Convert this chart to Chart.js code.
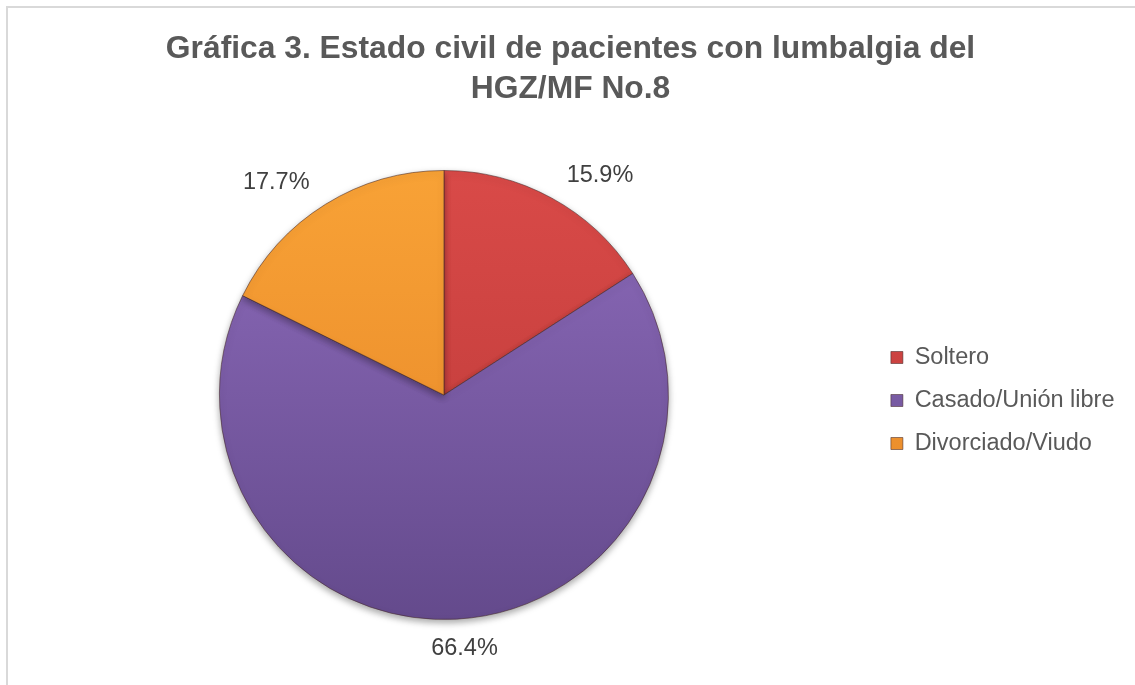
<!DOCTYPE html>
<html>
<head>
<meta charset="utf-8">
<script src="https://cdn.jsdelivr.net/npm/chart.js@4.4.1/dist/chart.umd.min.js"></script>
<style>
  html, body { margin: 0; padding: 0; background: #fff; overflow: hidden; }
  #box {
    position: absolute; left: 6px; top: 6px;
    width: 1128px; height: 680px;
    border: 2px solid #d9d9d9; background: #fff;
  }
</style>
</head>
<body>
<div id="box"><canvas id="pieChart" width="1128" height="680"></canvas></div>
<script>
// --- Data ---
const categories = ["Soltero", "Casado/Unión libre", "Divorciado/Viudo"];
const percents = [15.9, 66.4, 17.7];
const titleLines = ["Gráfica 3. Estado civil de pacientes con lumbalgia del", "HGZ/MF No.8"];

// top / bottom shade for each slice (bevel-ish look)
const sliceTop = ["#d94a48", "#8d6bbb", "#f8a236"];
const sliceBottom = ["#b93836", "#644a8c", "#e58427"];

function sliceFill(context) {
  const chart = context.chart;
  const area = chart.chartArea;
  if (!area) return sliceTop[context.dataIndex];
  const g = chart.ctx.createLinearGradient(0, area.top, 0, area.bottom);
  g.addColorStop(0, sliceTop[context.dataIndex]);
  g.addColorStop(1, sliceBottom[context.dataIndex]);
  return g;
}

// soft drop shadow under the pie
const pieShadow = {
  id: "pieShadow",
  beforeDatasetsDraw(chart) {
    const c = chart.ctx;
    c.save();
    c.shadowColor = "rgba(0,0,0,0.35)";
    c.shadowBlur = 7;
    c.shadowOffsetY = 3;
  },
  afterDatasetsDraw(chart) {
    chart.ctx.restore();
  }
};

// percentage labels outside each slice
const outsideLabels = {
  id: "outsideLabels",
  afterDraw(chart) {
    const c = chart.ctx;
    const meta = chart.getDatasetMeta(0);
    c.save();
    c.font = "23.5px 'Liberation Sans', Arial, sans-serif";
    c.fillStyle = "#404040";
    c.textAlign = "center";
    c.textBaseline = "middle";
    meta.data.forEach((arc, i) => {
      const p = arc.getProps(["x", "y", "startAngle", "endAngle", "outerRadius"], true);
      const mid = (p.startAngle + p.endAngle) / 2;
      const d = p.outerRadius + 15;
      const txt = percents[i].toFixed(1) + "%";
      const w = c.measureText(txt).width;
      const h = 24;
      const cx = Math.cos(mid), sy = Math.sin(mid);
      const clamp = v => Math.max(-1, Math.min(1, v));
      const x = p.x + cx * d + (w / 2 + 8) * clamp(cx * 3);
      const y = p.y + sy * d + (h / 2) * clamp(sy * 3) + 2.5;
      c.fillText(txt, x, y);
    });
    c.restore();
  }
};

new Chart(document.getElementById("pieChart"), {
  type: "pie",
  data: {
    labels: categories,
    datasets: [{
      data: percents,
      backgroundColor: sliceFill,
      borderColor: "rgba(70,40,40,0.55)",
      borderWidth: 1
    }]
  },
  options: {
    responsive: false,
    animation: false,
    layout: { padding: { left: 8.5, right: 11.5, top: 0, bottom: 68 } },
    plugins: {
      title: {
        display: true,
        text: titleLines,
        color: "#595959",
        font: { family: "'Liberation Sans', Arial, sans-serif", size: 31.8, weight: "bold", lineHeight: 40 / 31.8 },
        padding: { top: 21, bottom: 61 }
      },
      legend: {
        position: "right",
        fullSize: false,
        // empty title only nudges the items down a little
        title: { display: true, text: "", padding: 0, font: { size: 11, lineHeight: 1 } },
        labels: {
          color: "#595959",
          font: { family: "'Liberation Sans', Arial, sans-serif", size: 23.5 },
          boxWidth: 12,
          boxHeight: 12,
          padding: 19.5
        }
      },
      tooltip: { enabled: false }
    }
  },
  plugins: [pieShadow, outsideLabels]
});
</script>
</body>
</html>
